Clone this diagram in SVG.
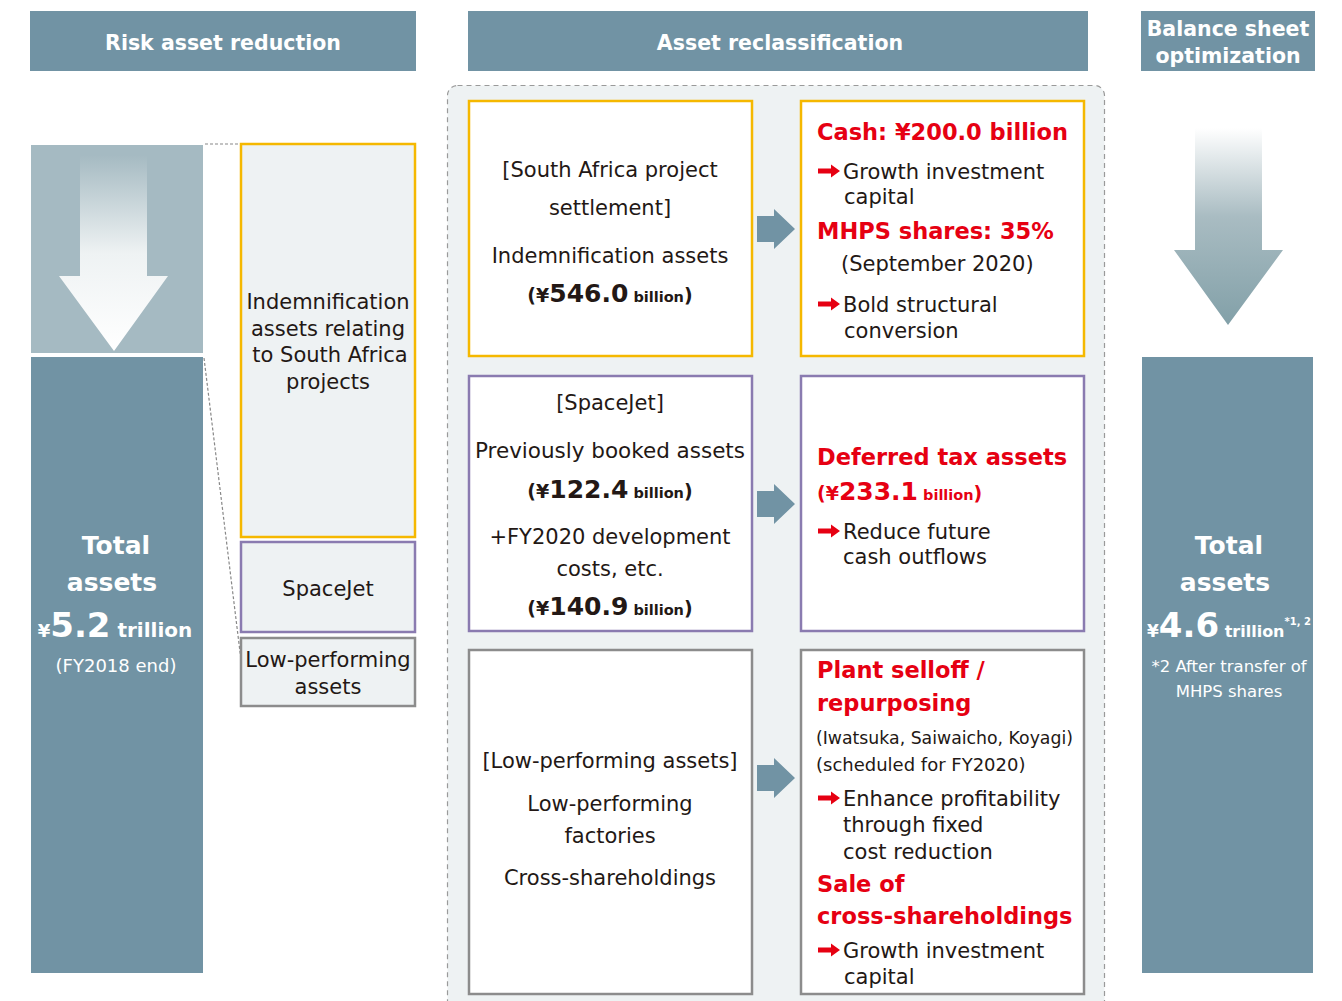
<svg xmlns="http://www.w3.org/2000/svg" width="1342" height="1001" viewBox="0 0 1342 1001">
<style>
text{font-family:"DejaVu Sans","Noto Sans","Liberation Sans",sans-serif;fill:#231815}
.hd{fill:#7193a4}
.ht{fill:#fff;font-size:20.5px;font-weight:bold;text-anchor:middle}
.c{text-anchor:middle}
.t21{font-size:21px}
.wt{fill:#fff}
.r{fill:#e60012;font-weight:bold}
.rt{font-size:22.5px}
.box{fill:#fff;stroke-width:2.5}
.y{stroke:#f5b800}
.p{stroke:#8a7bb0}
.g{stroke:#8c8c8c}
.lb{fill:#eef2f3;stroke-width:2.5}
</style>
<defs>
<linearGradient id="gl" x1="0" y1="0" x2="0" y2="1">
<stop offset="0" stop-color="#a5bac2"/>
<stop offset="0.5" stop-color="#eef2f3"/>
<stop offset="1" stop-color="#ffffff"/>
</linearGradient>
<linearGradient id="gr" x1="0" y1="0" x2="0" y2="1">
<stop offset="0" stop-color="#ffffff"/>
<stop offset="0.45" stop-color="#a9bcc2"/>
<stop offset="1" stop-color="#82a0a8"/>
</linearGradient>
<path id="ra" d="M0,-2.5 H13 V-6.5 L22,0 L13,6.5 V2.5 H0 Z" fill="#e60012"/>
<path id="ba" d="M0,-13 H17 V-20 L38,0 L17,20 V13 H0 Z" fill="#7193a4"/>
</defs>

<g id="headers">
<rect class="hd" x="30" y="11" width="386" height="60"/>
<text class="ht" x="223" y="50">Risk asset reduction</text>
<rect class="hd" x="468" y="11" width="620" height="60"/>
<text class="ht" x="780" y="50">Asset reclassification</text>
<rect class="hd" x="1141" y="11" width="174" height="60"/>
<text class="ht" x="1228" y="36">Balance sheet</text>
<text class="ht" x="1228" y="63">optimization</text>
</g>

<g id="container">
<rect x="447.5" y="85.5" width="657" height="930" rx="10" fill="#eef2f3" stroke="#9a9a9a" stroke-width="1.2" stroke-dasharray="5,4"/>
</g>

<g id="left-total">
<rect x="31" y="145" width="172" height="208" fill="#a5bac2"/>
<path d="M80,155 H147 V276 H168 L114,351 L59,276 H80 Z" fill="url(#gl)"/>
<rect x="31" y="357" width="172" height="616" fill="#7193a4"/>
<text class="c wt" x="116" y="554" font-size="25" font-weight="bold">Total</text>
<text class="c wt" x="112" y="591" font-size="25" font-weight="bold">assets</text>
<text class="c wt" x="115" y="637" font-weight="bold"><tspan font-size="18">¥</tspan><tspan font-size="34">5.2</tspan><tspan font-size="20"> trillion</tspan></text>
<text class="c wt" x="116" y="672" font-size="18">(FY2018 end)</text>
</g>

<g id="connectors">
<line x1="205" y1="144" x2="240" y2="144" stroke="#888" stroke-width="1.2" stroke-dasharray="3,2"/>
<line x1="204" y1="358" x2="241" y2="660" stroke="#888" stroke-width="1.2" stroke-dasharray="3,2"/>
<use href="#ba" x="757" y="229"/>
<use href="#ba" x="757" y="504"/>
<use href="#ba" x="757" y="778"/>
</g>

<g id="left-indemn">
<rect class="lb y" x="241" y="144" width="174" height="393"/>
<text class="c t21" x="328" y="309">Indemnification</text>
<text class="c t21" x="328" y="336">assets relating</text>
<text class="c t21" x="330" y="362">to South Africa</text>
<text class="c t21" x="328" y="389">projects</text>
</g>
<g id="left-spacejet">
<rect class="lb p" x="241" y="542" width="174" height="90"/>
<text class="c t21" x="328" y="596">SpaceJet</text>
</g>
<g id="left-lowperf">
<rect class="lb g" x="241" y="638" width="174" height="68"/>
<text class="c t21" x="328" y="667">Low-performing</text>
<text class="c t21" x="328" y="694">assets</text>
</g>

<g id="r1-left">
<rect class="box y" x="469" y="101" width="283" height="255"/>
<text class="c t21" x="610" y="177">[South Africa project</text>
<text class="c t21" x="610" y="215">settlement]</text>
<text class="c t21" x="610" y="263">Indemnification assets</text>
<text class="c" x="610" y="302" font-weight="bold"><tspan font-size="19">(¥</tspan><tspan font-size="25">546.0</tspan><tspan font-size="14.5"> billion</tspan><tspan font-size="19">)</tspan></text>
</g>
<g id="r1-right">
<rect class="box y" x="801" y="101" width="283" height="255"/>
<text class="r rt" x="817" y="140">Cash: ¥200.0 billion</text>
<use href="#ra" x="818" y="171"/>
<text class="t21" x="843" y="179">Growth investment</text>
<text class="t21" x="844" y="204">capital</text>
<text class="r rt" x="817" y="239">MHPS shares: 35%</text>
<text class="t21" x="841" y="271">(September 2020)</text>
<use href="#ra" x="818" y="304"/>
<text class="t21" x="843" y="312">Bold structural</text>
<text class="t21" x="844" y="338">conversion</text>
</g>

<g id="r2-left">
<rect class="box p" x="469" y="376" width="283" height="255"/>
<text class="c t21" x="610" y="410">[SpaceJet]</text>
<text class="c t21" x="610" y="458" textLength="270" lengthAdjust="spacingAndGlyphs">Previously booked assets</text>
<text class="c" x="610" y="498" font-weight="bold"><tspan font-size="19">(¥</tspan><tspan font-size="25">122.4</tspan><tspan font-size="14.5"> billion</tspan><tspan font-size="19">)</tspan></text>
<text class="c t21" x="610" y="544">+FY2020 development</text>
<text class="c t21" x="610" y="576">costs, etc.</text>
<text class="c" x="610" y="615" font-weight="bold"><tspan font-size="19">(¥</tspan><tspan font-size="25">140.9</tspan><tspan font-size="14.5"> billion</tspan><tspan font-size="19">)</tspan></text>
</g>
<g id="r2-right">
<rect class="box p" x="801" y="376" width="283" height="255"/>
<text class="r rt" x="817" y="465">Deferred tax assets</text>
<text class="r" x="817" y="500"><tspan font-size="19">(¥</tspan><tspan font-size="25">233.1</tspan><tspan font-size="14.5"> billion</tspan><tspan font-size="19">)</tspan></text>
<use href="#ra" x="818" y="531"/>
<text class="t21" x="843" y="539">Reduce future</text>
<text class="t21" x="843" y="564">cash outflows</text>
</g>

<g id="r3-left">
<rect class="box g" x="469" y="650" width="283" height="344"/>
<text class="c t21" x="610" y="768">[Low-performing assets]</text>
<text class="c t21" x="610" y="811">Low-performing</text>
<text class="c t21" x="610" y="843">factories</text>
<text class="c t21" x="610" y="885">Cross-shareholdings</text>
</g>
<g id="r3-right">
<rect class="box g" x="801" y="650" width="283" height="344"/>
<text class="r rt" x="817" y="678">Plant selloff /</text>
<text class="r rt" x="817" y="711">repurposing</text>
<text x="816" y="744" font-size="18.5" textLength="257" lengthAdjust="spacingAndGlyphs">(Iwatsuka, Saiwaicho, Koyagi)</text>
<text x="816" y="771" font-size="18">(scheduled for FY2020)</text>
<use href="#ra" x="818" y="798"/>
<text class="t21" x="843" y="806">Enhance profitability</text>
<text class="t21" x="843" y="832">through fixed</text>
<text class="t21" x="843" y="859">cost reduction</text>
<text class="r rt" x="817" y="892">Sale of</text>
<text class="r rt" x="817" y="924">cross-shareholdings</text>
<use href="#ra" x="818" y="950"/>
<text class="t21" x="843" y="958">Growth investment</text>
<text class="t21" x="844" y="984">capital</text>
</g>

<g id="right-total">
<path d="M1195,128 H1262 V250 H1283 L1228,325 L1174,250 H1195 Z" fill="url(#gr)"/>
<rect x="1142" y="357" width="171" height="616" fill="#7193a4"/>
<text class="c wt" x="1229" y="554" font-size="25" font-weight="bold">Total</text>
<text class="c wt" x="1225" y="591" font-size="25" font-weight="bold">assets</text>
<text class="wt" x="1147" y="637" font-weight="bold"><tspan font-size="17">¥</tspan><tspan font-size="34">4.6</tspan><tspan font-size="16"> trillion</tspan><tspan font-size="10" dy="-12">*1, 2</tspan></text>
<text class="c wt" x="1229" y="672" font-size="16.5">*2 After transfer of</text>
<text class="c wt" x="1229" y="697" font-size="16.5">MHPS shares</text>
</g>
</svg>
